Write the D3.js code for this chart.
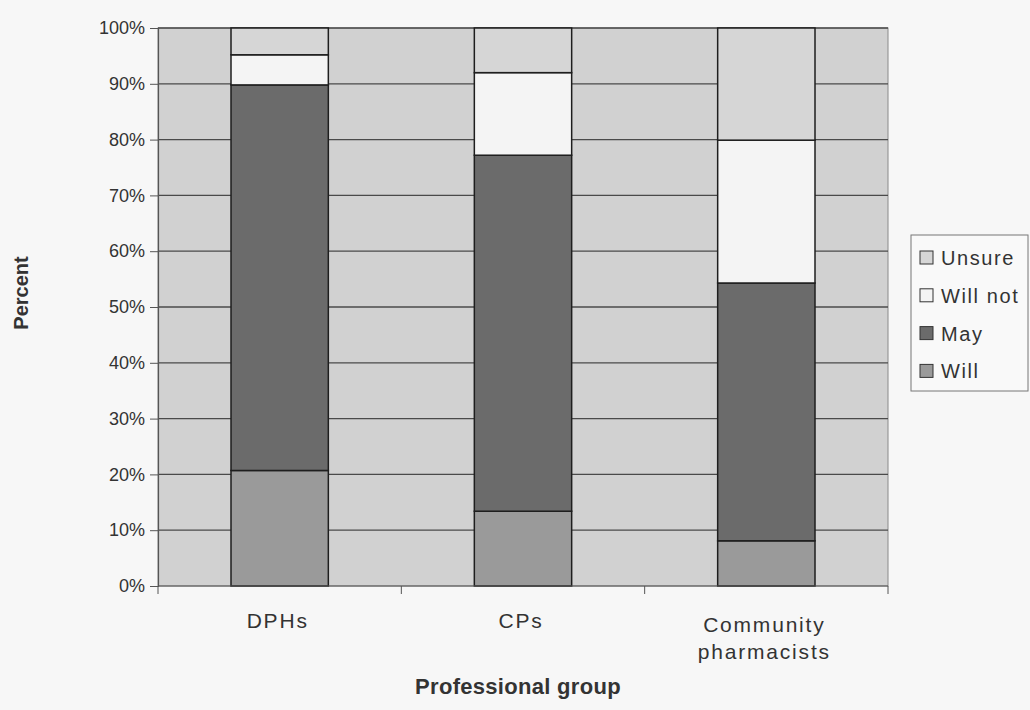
<!DOCTYPE html>
<html><head><meta charset="utf-8">
<script src="https://cdn.jsdelivr.net/npm/d3@7"></script>
<style>body{margin:0;background:#f7f7f7;} svg{display:block;font-family:"Liberation Sans",Arial,sans-serif;}</style>
</head><body><svg id="c" width="1030" height="710"></svg>
<script>
const categories = ["DPHs", "CPs", "Community pharmacists"];
const seriesNames = ["Will", "May", "Will not", "Unsure"];
const will    = [20.7, 13.4, 8.1];
const may     = [69.1, 63.8, 46.2];
const willNot = [5.4, 14.8, 25.6];
const unsure  = [4.8, 8.0, 20.1];
const yTicks = [0,10,20,30,40,50,60,70,80,90,100];
const colors = {"Will":"#9a9a9a","May":"#6b6b6b","Will not":"#f4f4f4","Unsure":"#d6d6d6"};

const svg = d3.select("#c");
const L=158, R=888, T=28, B=586;
const x = d3.scaleBand().domain(categories).range([L,R]).paddingInner(0.6).paddingOuter(0.3);
const xb = d3.scaleBand().domain(categories).range([L,R]);
const y = d3.scaleLinear().domain([0,100]).range([B,T]);

svg.append("rect").attr("x",L).attr("y",T).attr("width",R-L).attr("height",B-T)
  .attr("fill","#d1d1d1").attr("stroke","#8a8a8a").attr("stroke-width",1);

svg.append("g").selectAll("line").data(yTicks.filter(d=>d>0)).join("line")
  .attr("x1",L).attr("x2",R).attr("y1",d=>y(d)).attr("y2",d=>y(d))
  .attr("stroke","#4a4a4a").attr("stroke-width",1.3);

const rows = categories.map((c,i)=>({cat:c,"Will":will[i],"May":may[i],"Will not":willNot[i],"Unsure":unsure[i]}));
const stack = d3.stack().keys(seriesNames)(rows);
svg.append("g").selectAll("g").data(stack).join("g")
  .attr("fill",d=>colors[d.key])
  .selectAll("rect").data(d=>d).join("rect")
  .attr("x",d=>x(d.data.cat)).attr("width",x.bandwidth())
  .attr("y",d=>y(Math.min(d[1],100))).attr("height",d=>y(d[0])-y(Math.min(d[1],100)))
  .attr("stroke","#1e1e1e").attr("stroke-width",1.5);

// y axis
const ya = svg.append("g").attr("transform",`translate(${L},0)`)
  .call(d3.axisLeft(y).tickValues(yTicks).tickSize(8).tickPadding(5).tickFormat(d=>d+"%"));
ya.select(".domain").attr("stroke","#555").attr("stroke-width",1.2);
ya.selectAll(".tick line").attr("stroke","#555");
ya.selectAll("text").attr("font-size",18).attr("fill","#333").attr("font-family","Liberation Sans, Arial, sans-serif");

// x axis
const xa = svg.append("g").attr("transform",`translate(0,${B})`);
xa.append("line").attr("x1",L).attr("x2",R).attr("stroke","#555").attr("stroke-width",1.2);
xa.selectAll("line.tk").data([L].concat(categories.map(c=>xb(c)+xb.bandwidth()))).join("line")
  .attr("class","tk").attr("x1",d=>d).attr("x2",d=>d).attr("y1",0).attr("y2",8).attr("stroke","#555");
const labelLines = {"DPHs":["DPHs"],"CPs":["CPs"],"Community pharmacists":["Community","pharmacists"]};
xa.selectAll("text").data(categories).join("text")
  .attr("x",d=>xb(d)+xb.bandwidth()/2).attr("y",42).attr("text-anchor","middle")
  .attr("font-size",21).attr("fill","#333").attr("letter-spacing",1.8)
  .each(function(d,i){
    const t=d3.select(this);
    labelLines[d].forEach((s,j)=>t.append("tspan").attr("x",xb(d)+xb.bandwidth()/2-2).attr("dy",j?27:(i===2?4:0)).text(s));
  });

svg.append("text").attr("transform","translate(28,293) rotate(-90)").attr("text-anchor","middle")
  .attr("font-size",20).attr("font-weight","bold").attr("fill","#333").text("Percent");
svg.append("text").attr("x",518).attr("y",694).attr("text-anchor","middle")
  .attr("font-size",22).attr("font-weight","bold").attr("fill","#333").attr("letter-spacing",0.3).text("Professional group");

// legend
const lg = svg.append("g").attr("transform","translate(911,235)");
lg.append("rect").attr("width",117).attr("height",156).attr("fill","#f9f9f9").attr("stroke","#777");
const legOrder = ["Unsure","Will not","May","Will"];
const li = lg.selectAll("g").data(legOrder).join("g").attr("transform",(d,i)=>`translate(9,${22+i*37.8})`);
li.append("rect").attr("x",0).attr("y",-6).attr("width",13).attr("height",13)
  .attr("fill",d=>colors[d]).attr("stroke","#333").attr("stroke-width",1);
li.append("text").attr("x",21).attr("y",8).attr("font-size",20).attr("fill","#333").attr("letter-spacing",1.6).text(d=>d);
</script></body></html>
